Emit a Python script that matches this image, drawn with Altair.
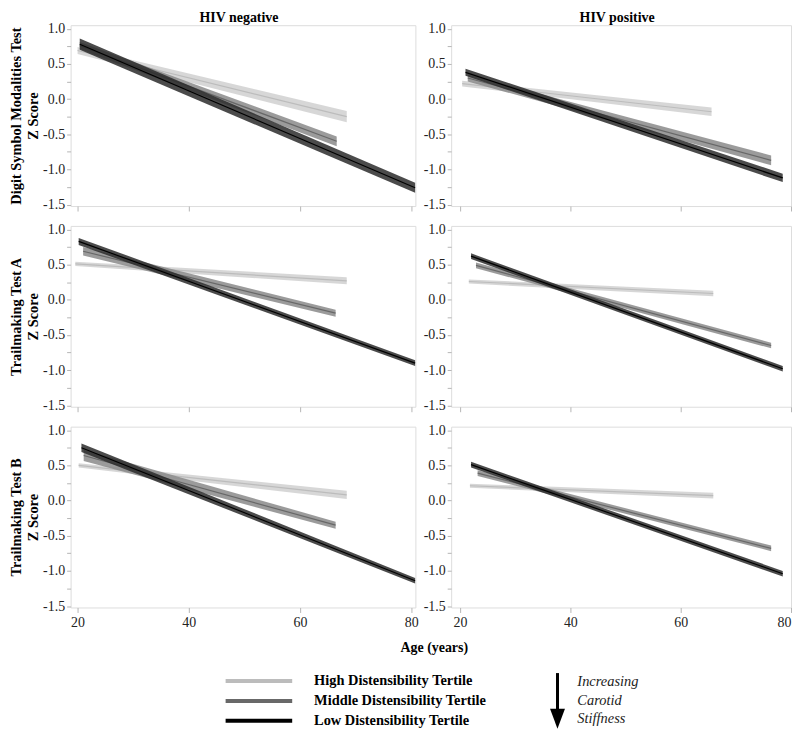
import altair as alt
import pandas as pd

# ---------------- data ----------------
tests = ["Digit Symbol Modalities Test", "Trailmaking Test A", "Trailmaking Test B"]
y_titles = [["Digit Symbol Modalities Test", "Z Score"],
            ["Trailmaking Test A", "Z Score"],
            ["Trailmaking Test B", "Z Score"]]
groups = ["HIV negative", "HIV positive"]
tertiles = ["High Distensibility Tertile", "Middle Distensibility Tertile", "Low Distensibility Tertile"]
stiffness_words = ["Increasing", "Carotid", "Stiffness"]
x_title = "Age (years)"

x_ticks = [20, 40, 60, 80]
y_ticks = [-1.5, -1.25, -1.0, -0.75, -0.5, -0.25, 0.0, 0.25, 0.5, 0.75, 1.0]

# panels in order: DSMT neg, DSMT pos, TMT-A neg, TMT-A pos, TMT-B neg, TMT-B pos
# inner lists: [High, Middle, Low]
age_start = [
    [20.0, 20.4, 20.4],
    [20.4, 21.4, 21.0],
    [19.6, 21.0, 20.2],
    [21.6, 22.9, 22.0],
    [20.2, 21.1, 20.7],
    [21.8, 23.2, 22.0],
]
age_end = [
    [68.4, 66.6, 80.7],
    [65.6, 76.4, 78.5],
    [68.4, 66.4, 80.7],
    [65.9, 76.4, 78.5],
    [68.4, 66.4, 80.7],
    [65.9, 76.4, 78.5],
]
z_start = [
    [0.69, 0.76, 0.78],
    [0.22, 0.30, 0.38],
    [0.51, 0.69, 0.83],
    [0.26, 0.49, 0.62],
    [0.50, 0.64, 0.75],
    [0.21, 0.39, 0.51],
]
z_end = [
    [-0.25, -0.60, -1.26],
    [-0.18, -0.87, -1.12],
    [0.27, -0.19, -0.90],
    [0.09, -0.65, -0.98],
    [0.08, -0.35, -1.14],
    [0.07, -0.68, -1.04],
]
ci_start = [
    [0.05, 0.05, 0.08],
    [0.04, 0.05, 0.05],
    [0.03, 0.06, 0.05],
    [0.03, 0.04, 0.04],
    [0.03, 0.08, 0.06],
    [0.03, 0.04, 0.04],
]
ci_end = [
    [0.08, 0.07, 0.07],
    [0.06, 0.07, 0.06],
    [0.05, 0.05, 0.04],
    [0.04, 0.04, 0.04],
    [0.06, 0.05, 0.04],
    [0.04, 0.04, 0.04],
]

band_colors = ["#d0d0d0", "#8a8a8a", "#2b2b2b"]
line_colors = ["#bcbcbc", "#686868", "#000000"]

rows = []
for p in range(6):
    for t in range(3):
        rows.append(dict(panel=p, tertile=tertiles[t], age=age_start[p][t], z=z_start[p][t],
                         lo=z_start[p][t] - ci_start[p][t], hi=z_start[p][t] + ci_start[p][t]))
        rows.append(dict(panel=p, tertile=tertiles[t], age=age_end[p][t], z=z_end[p][t],
                         lo=z_end[p][t] - ci_end[p][t], hi=z_end[p][t] + ci_end[p][t]))
df = pd.DataFrame(rows)

FONT = "Liberation Serif"
x_domains = [[18.75, 80.75], [18.4, 80.0]]
widths = [347, 342]
PANEL_H = 182
Y_DOMAIN = [-1.52, 1.05]

y_label_expr = ("abs(datum.value*2 - round(datum.value*2)) < 0.01 ? "
                "replace(format(datum.value, '.1f'), '\u2212', '-') : ''")

fill_scale = alt.Scale(domain=tertiles, range=band_colors)
stroke_scale = alt.Scale(domain=tertiles, range=line_colors)


def panel(r, c):
    p = r * 2 + c
    bottom = (r == 2)
    xax = alt.Axis(values=x_ticks, labels=bottom, title=None, domain=False, grid=False,
                   tickSize=5, tickColor="#b5b5b5", labelFont=FONT, labelFontSize=14,
                   labelColor="#222222", labelPadding=3)
    yargs = dict(values=y_ticks, labelExpr=y_label_expr, domain=False, grid=False,
                 tickSize=4, tickColor="#b5b5b5", labelFont=FONT, labelFontSize=14,
                 labelColor="#222222", labelPadding=2)
    if c == 0:
        yargs.update(title=y_titles[r], titleFont=FONT, titleFontSize=14.5, titleFontWeight="bold",
                     titleColor="#000000", titlePadding=2, titleLineHeight=17)
    else:
        yargs.update(title=None)
    yax = alt.Axis(**yargs)
    xenc = alt.X("age:Q", scale=alt.Scale(domain=x_domains[c], nice=False, zero=False), axis=xax)
    layers = []
    for t in range(3):
        d = df[(df.panel == p) & (df.tertile == tertiles[t])]
        area = alt.Chart(d).mark_area(opacity=0.85).encode(
            x=xenc,
            y=alt.Y("lo:Q", scale=alt.Scale(domain=Y_DOMAIN, nice=False, zero=False), axis=yax),
            y2="hi:Q",
            fill=alt.Fill("tertile:N", scale=fill_scale, legend=None),
        )
        line = alt.Chart(d).mark_line(strokeWidth=1.2).encode(
            x=xenc,
            y=alt.Y("z:Q", scale=alt.Scale(domain=Y_DOMAIN, nice=False, zero=False), axis=yax),
            stroke=alt.Stroke("tertile:N", scale=stroke_scale, legend=None),
        )
        layers += [area, line]

    one = alt.Data(values=[{"k": 1}])
    if r == 0:
        layers.append(alt.Chart(one).mark_text(text=groups[c], font=FONT, fontSize=14, fontWeight="bold",
                                               align="center", baseline="middle", color="#000")
                      .encode(x=alt.value(widths[c] / 2 - 4), y=alt.value(-7)))

    if r == 2 and c == 0:
        layers.append(alt.Chart(one).mark_text(text=x_title, font=FONT, fontSize=14, fontWeight="bold",
                                               align="center", baseline="middle", color="#000")
                      .encode(x=alt.value(366), y=alt.value(223)))
        leg_y = [256, 276, 296]
        for t in range(3):
            ld = pd.DataFrame({"tertile": [tertiles[t]]})
            layers.append(alt.Chart(ld).mark_rule(strokeWidth=4).encode(
                x=alt.value(156), x2=alt.value(223), y=alt.value(leg_y[t]),
                stroke=alt.Stroke("tertile:N", scale=stroke_scale, legend=None)))
            layers.append(alt.Chart(ld).mark_text(font=FONT, fontSize=14.5, fontWeight="bold",
                                                  align="left", baseline="middle", color="#000")
                          .encode(x=alt.value(245), y=alt.value(leg_y[t]), text="tertile:N"))
        layers.append(alt.Chart(one).mark_rule(strokeWidth=3, color="#000").encode(
            x=alt.value(490), y=alt.value(248), y2=alt.value(286)))
        layers.append(alt.Chart(one).mark_point(shape="M-0.75,-1L0.75,-1L0,1Z", filled=True, size=400,
                                                color="#000", opacity=1).encode(
            x=alt.value(490), y=alt.value(294)))
        word_y = [257, 276, 294]
        for i, w in enumerate(stiffness_words):
            layers.append(alt.Chart(one).mark_text(text=w, font=FONT, fontSize=14.5, fontStyle="italic",
                                                   align="left", baseline="middle", color="#222")
                          .encode(x=alt.value(510), y=alt.value(word_y[i])))

    return alt.layer(*layers).properties(width=widths[c], height=PANEL_H)


panels = [panel(r, c) for r in range(3) for c in range(2)]

chart = alt.concat(*panels, columns=2, spacing={"row": 20, "column": 36}, bounds="flush").properties(
    padding={"left": 0, "top": 0, "right": 0, "bottom": 0}
).configure_view(stroke="#c8c8c8", strokeWidth=1).configure(background="white")

chart.save("out.html", embed_options={"renderer": "svg", "actions": False})
